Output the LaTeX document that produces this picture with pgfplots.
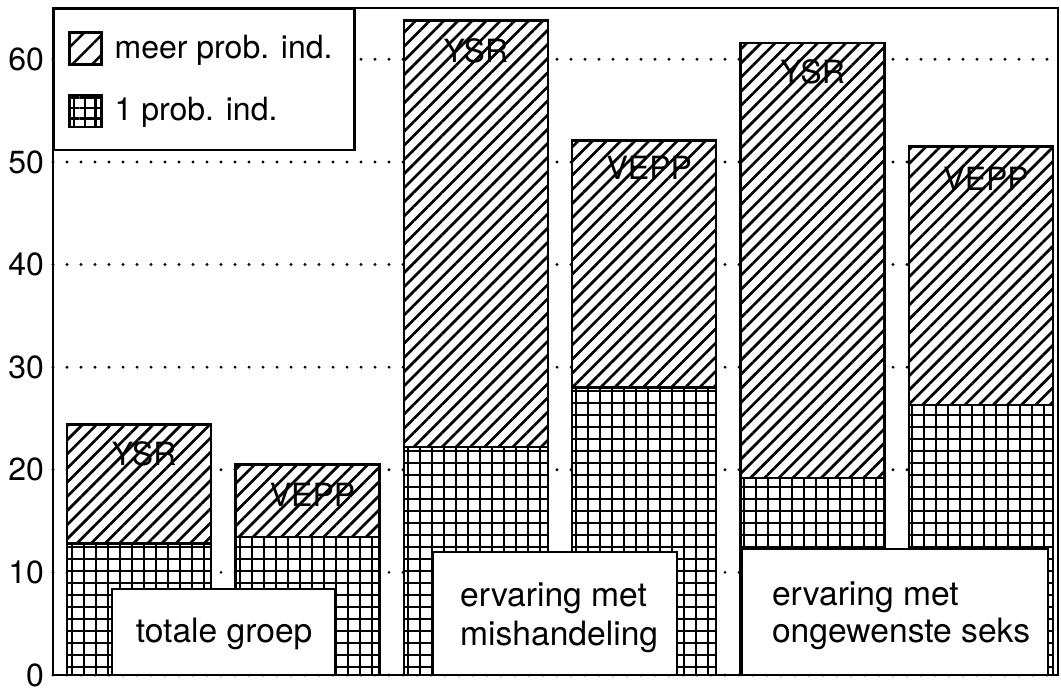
\documentclass[border=0pt]{standalone}
\usepackage{fontspec}
\setmainfont{TeX Gyre Heros}
\usepackage{pgfplots}
\pgfplotsset{compat=1.18}
\usetikzlibrary{patterns.meta}
\begin{document}
\begin{tikzpicture}
\useasboundingbox (-26.5pt,-8pt) rectangle (504pt,337.5pt);
\begin{axis}[
  at={(0pt,0pt)}, anchor=south west,
  scale only axis, width=502.5pt, height=333.5pt,
  xmin=0.489, xmax=6.457, ymin=0, ymax=65,
  ybar stacked, bar width=0.855,
  xtick=\empty,
  ytick={0,10,...,60},
  major tick length=0pt,
  yticklabel style={font=\fontsize{16}{18}\selectfont, xshift=-1pt},
  /pgf/number format/assume math mode=true,
  axis line style={line width=1.3pt},
  ymajorgrids,
  grid style={line width=1.6pt, line cap=round, dash pattern=on 0pt off 7pt, black},
  reverse legend,
  legend style={at={(rel axis cs:0,1)}, anchor=north west, draw=black, line width=1.2pt,
    fill=white, font=\fontsize{16}{19}\selectfont, inner xsep=7pt, inner ysep=11pt,
    row sep=14pt, legend cell align=left,
    /tikz/every odd column/.append style={column sep=4pt}},
]
\addplot[draw=black, line width=1.2pt, preaction={fill=white},
  pattern={Hatch[angle=0,distance=6pt,line width=1.25pt]},
  legend image code/.code={\draw[line width=1.2pt, pattern={Hatch[angle=0,distance=5.3pt,line width=1.2pt]}] (0pt,-8pt) rectangle (16pt,8pt);}]
  coordinates {(1,12.8) (2,13.45) (3,22.2) (4,28.0) (5,19.2) (6,26.3)};
\addlegendentry{\makebox[111pt][l]{1 prob. ind.}}
\addplot[draw=black, line width=1.2pt, preaction={fill=white},
  pattern={Lines[angle=45,distance=5pt,line width=1.35pt]},
  legend image code/.code={\draw[line width=1.2pt, pattern={Lines[angle=45,distance=7pt,line width=1.2pt]}] (0pt,-8pt) rectangle (16pt,8pt);}]
  coordinates {(1,11.6) (2,7.05) (3,41.6) (4,24.1) (5,42.4) (6,25.2)};
\addlegendentry{\makebox[111pt][l]{meer prob. ind.}}

\coordinate (L1) at (axis cs:1.03,21.6);
\coordinate (L2) at (axis cs:2.03,17.6);
\coordinate (L3) at (axis cs:3,60.8);
\coordinate (L4) at (axis cs:4.03,49.4);
\coordinate (L5) at (axis cs:5,58.8);
\coordinate (L6) at (axis cs:6.03,48.4);
\coordinate (B1a) at (axis cs:0.840,0);
\coordinate (B1b) at (axis cs:2.164,8.38);
\coordinate (T1) at (axis cs:1.505,3.12);
\coordinate (B2a) at (axis cs:2.746,0);
\coordinate (B2b) at (axis cs:4.195,12.0);
\coordinate (T2a) at (axis cs:2.865,6.63);
\coordinate (T2b) at (axis cs:2.865,2.92);
\coordinate (B3a) at (axis cs:4.581,0);
\coordinate (B3b) at (axis cs:6.398,12.28);
\coordinate (T3a) at (axis cs:4.717,6.82);
\coordinate (T3b) at (axis cs:4.717,3.12);
\end{axis}
\begin{scope}[every node/.style={font=\fontsize{16}{18}\selectfont}]
\node at (L1) {YSR};
\node at (L2) {VEPP};
\node at (L3) {YSR};
\node at (L4) {VEPP};
\node at (L5) {YSR};
\node at (L6) {VEPP};
\end{scope}
\begin{scope}[every node/.style={font=\fontsize{16.8}{19}\selectfont}]
\draw[line width=1.2pt, fill=white] (B1a) rectangle (B1b);
\node[anchor=base] at (T1) {totale groep};
\draw[line width=1.2pt, fill=white] (B2a) rectangle (B2b);
\node[anchor=base west] at (T2a) {ervaring met};
\node[anchor=base west] at (T2b) {mishandeling};
\draw[line width=1.2pt, fill=white] (B3a) rectangle (B3b);
\node[anchor=base west] at (T3a) {ervaring met};
\node[anchor=base west] at (T3b) {ongewenste seks};
\end{scope}
\end{tikzpicture}
\end{document}
